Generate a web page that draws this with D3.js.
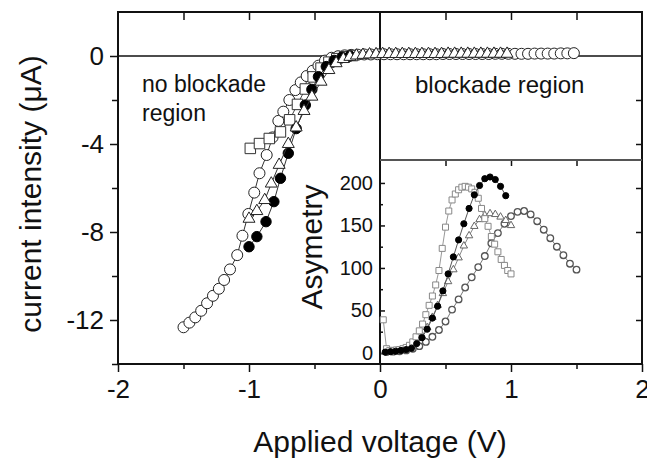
<html>
<head>
  <script src="https://d3js.org/d3.v7.min.js"></script>
  <style>
    body { margin: 0; background: #fff; }
    text { font-family: "Liberation Sans", Arial, sans-serif; fill: #111; }
  </style>
</head>
<body>
<svg id="chart" width="647" height="459"></svg>
<script>
// main I-V curves: [voltage, current]
const openCircles = [[-1.50,-12.33],[-1.455,-12.12],[-1.41,-11.88],[-1.365,-11.58],[-1.32,-11.24],[-1.275,-10.90],
  [-1.23,-10.58],[-1.19,-10.18],[-1.145,-9.70],[-1.09,-9.05],[-1.05,-8.17],[-1.005,-7.18],[-0.96,-6.21],[-0.92,-5.33],
  [-0.865,-4.50],[-0.82,-3.70],[-0.776,-2.95],[-0.738,-2.53],[-0.692,-2.00],[-0.646,-1.55],[-0.605,-1.20],[-0.56,-0.91],
  [-0.514,-0.67],[-0.47,-0.44],[-0.42,-0.21],[-0.37,-0.08],[-0.32,-0.01],[-0.27,0.03],[-0.22,0.05],[-0.17,0.06],
  [-0.12,0.07],[-0.07,0.07],[-0.02,0.08],[0.03,0.08],[0.08,0.08],[0.13,0.08],[0.18,0.08],[0.23,0.08],[0.28,0.08],
  [0.33,0.08],[0.38,0.08],[0.43,0.08],[0.48,0.09],[0.53,0.09],[0.58,0.09],[0.63,0.09],[0.68,0.09],[0.73,0.09],
  [0.78,0.09],[0.83,0.09],[0.88,0.10],[0.93,0.10],[0.98,0.10],[1.03,0.10],[1.08,0.10],[1.13,0.10],[1.18,0.11],
  [1.23,0.11],[1.28,0.11],[1.33,0.11],[1.38,0.12],[1.43,0.12],[1.48,0.13]];
const openSquares = [[-0.99,-4.20],[-0.92,-3.98],[-0.845,-3.75],[-0.76,-3.45],[-0.69,-2.90],[-0.63,-2.20],[-0.57,-1.50],
  [-0.51,-0.95],[-0.45,-0.55],[-0.39,-0.28],[-0.33,-0.12],[-0.27,-0.03],[-0.21,0.02]];
const filledCircles = [[-1.00,-8.67],[-0.94,-8.21],[-0.87,-7.53],[-0.81,-6.62],[-0.76,-5.56],[-0.70,-4.42],[-0.64,-3.30],
  [-0.57,-2.23],[-0.52,-1.52],[-0.47,-0.94],[-0.41,-0.48],[-0.35,-0.20],[-0.29,-0.06],[-0.23,0.00]];
const openTriangles = [[-1.00,-7.40],[-0.94,-7.05],[-0.88,-6.55],[-0.83,-5.80],[-0.77,-4.95],[-0.70,-4.00],[-0.64,-3.25],
  [-0.58,-2.50],[-0.52,-1.85],[-0.45,-1.17],[-0.39,-0.64],[-0.335,-0.33],[-0.28,-0.14],[-0.23,-0.04],[-0.18,0.02],
  [-0.13,0.05],[-0.08,0.07],[-0.03,0.08],[0.02,0.09],[0.07,0.09],[0.12,0.09],[0.17,0.09],[0.22,0.09],[0.27,0.09],
  [0.32,0.09],[0.37,0.09],[0.42,0.09],[0.47,0.09],[0.52,0.10],[0.57,0.10],[0.62,0.10],[0.67,0.10],[0.72,0.10],
  [0.77,0.10],[0.82,0.10],[0.87,0.10],[0.92,0.10],[0.97,0.10]];

// inset asymmetry curves: [voltage, asymmetry]
const insetSquares = [[0.025,39],[0.05,5],[0.075,3],[0.1,3],[0.125,3.5],[0.15,4],[0.175,5],[0.2,6.5],[0.225,9],
  [0.25,13],[0.275,19],[0.3,26],[0.325,34],[0.35,45],[0.375,56],[0.4,67],[0.425,80],[0.45,97],[0.475,123],
  [0.5,148],[0.525,167],[0.55,180],[0.575,187],[0.6,192],[0.625,195],[0.65,196],[0.675,195],[0.7,193],[0.725,189],
  [0.75,182],[0.775,170],[0.8,158],[0.825,149],[0.85,137],[0.875,128],[0.9,119],[0.925,110],[0.95,103],[0.975,97],[1.0,93]];
const insetFilled = [[0.04,1],[0.08,1.5],[0.12,2],[0.16,3],[0.20,4],[0.24,5.5],[0.28,11],[0.32,18],[0.36,28],[0.40,41],
  [0.44,55],[0.48,73],[0.52,93],[0.56,113],[0.60,133],[0.64,152],[0.68,170],[0.72,186],[0.76,197],[0.80,205],
  [0.84,207],[0.88,204],[0.92,196],[0.96,185]];
const insetTriangles = [[0.04,1],[0.08,1.5],[0.12,2],[0.16,3],[0.20,5],[0.24,8],[0.28,13],[0.32,20],[0.36,30],[0.40,42],
  [0.44,56],[0.48,70],[0.52,84],[0.56,98],[0.60,112],[0.64,126],[0.68,138],[0.72,149],[0.76,157],[0.80,162],
  [0.84,164],[0.88,163],[0.92,160],[0.96,156],[1.0,150]];
const insetRings = [[0.05,1],[0.10,1.5],[0.15,2],[0.20,3],[0.25,5],[0.30,8],[0.35,13],[0.40,19],[0.45,27],[0.50,37],
  [0.55,51],[0.60,63],[0.65,77],[0.70,89],[0.75,101],[0.80,114],[0.85,129],[0.90,141],[0.95,152],[1.00,161],
  [1.05,166],[1.10,167],[1.15,163],[1.20,155],[1.25,145],[1.30,135],[1.35,125],[1.40,115],[1.45,105],[1.50,98]];

const xMajor = [-2, -1, 0, 1, 2];
const xMinor = [-1.5, -0.5, 0.5, 1.5];
const yMajor = [0, -4, -8, -12];
const yMinor = [-2, -6, -10, -14];
const insetMajor = [0, 50, 100, 150, 200];
const insetMinor = [25, 75, 125, 175];

const svg = d3.select("#chart");
const plotLeft = 118, plotRight = 642, plotTop = 12, plotBottom = 364, insetTop = 160;

const x = d3.scaleLinear().domain([-2, 2]).range([plotLeft, plotRight]);
const y = d3.scaleLinear().domain([-14, 2]).range([plotBottom, plotTop]);
const yIn = d3.scaleLinear().domain([-13, 227]).range([plotBottom, insetTop]);

const noDomain = g => g.select(".domain").remove();
const bigText = size => g => g.selectAll("text").style("font-size", size).attr("font-family", "Liberation Sans, Arial");

// axes
svg.append("g").attr("transform", `translate(${plotLeft},0)`)
  .call(d3.axisLeft(y).tickValues(yMajor).tickSize(8).tickPadding(6).tickFormat(d => String(d)))
  .call(noDomain).call(bigText("26px"));
svg.append("g").attr("transform", `translate(${plotLeft},0)`)
  .call(d3.axisLeft(y).tickValues(yMinor).tickSize(6).tickFormat("")).call(noDomain);
svg.append("g").attr("transform", `translate(0,${plotBottom})`)
  .call(d3.axisBottom(x).tickValues(xMajor).tickSize(8).tickPadding(8).tickFormat(d => String(d)))
  .call(noDomain).call(bigText("26px"));
svg.append("g").attr("transform", `translate(0,${plotBottom})`)
  .call(d3.axisBottom(x).tickValues(xMinor).tickSize(5).tickFormat("")).call(noDomain);
svg.append("g").attr("transform", `translate(0,${plotTop})`)
  .call(d3.axisTop(x).tickValues([-1.5, -1, -0.5, 0.5, 1, 1.5]).tickSize(-8).tickFormat("")).call(noDomain);
svg.append("g").attr("transform", `translate(${plotRight},0)`)
  .call(d3.axisRight(y).tickValues([-2, -4, -6, -8, -10, -12]).tickSize(-6).tickFormat("")).call(noDomain);

// inset axes
svg.append("g").attr("transform", `translate(${x(0)},0)`)
  .call(d3.axisLeft(yIn).tickValues(insetMajor).tickSize(-5).tickPadding(7).tickFormat(d => String(d)))
  .call(noDomain).call(bigText("20px"));
svg.append("g").attr("transform", `translate(${x(0)},0)`)
  .call(d3.axisLeft(yIn).tickValues(insetMinor).tickSize(-3).tickFormat("")).call(noDomain);
svg.append("g").attr("transform", `translate(0,${insetTop})`)
  .call(d3.axisBottom(x).tickValues([0.5, 1, 1.5]).tickSize(6).tickFormat("")).call(noDomain);

svg.selectAll(".tick line").attr("stroke", "#111").attr("stroke-width", 1.5);
svg.selectAll(".tick text").attr("fill", "#111");

// frame and zero lines
svg.append("rect").attr("x", plotLeft).attr("y", plotTop).attr("width", plotRight - plotLeft).attr("height", plotBottom - plotTop)
  .attr("fill", "none").attr("stroke", "#111").attr("stroke-width", 2);
svg.append("line").attr("x1", plotLeft).attr("x2", plotRight).attr("y1", y(0)).attr("y2", y(0))
  .attr("stroke", "#111").attr("stroke-width", 1.5);
svg.append("line").attr("x1", x(0)).attr("x2", x(0)).attr("y1", plotTop).attr("y2", plotBottom)
  .attr("stroke", "#111").attr("stroke-width", 2);
svg.append("line").attr("x1", x(0)).attr("x2", plotRight).attr("y1", insetTop).attr("y2", insetTop)
  .attr("stroke", "#555").attr("stroke-width", 2);

// series drawing
function drawSeries(data, ys, shape, opts) {
  const line = d3.line().x(d => x(d[0])).y(d => ys(d[1]));
  svg.append("path").datum(data).attr("d", line).attr("fill", "none")
    .attr("stroke", opts.lineColor).attr("stroke-width", opts.lineWidth || 1);
  svg.append("g").selectAll("path").data(data).join("path")
    .attr("transform", d => `translate(${x(d[0])},${ys(d[1])})`)
    .attr("d", d3.symbol(shape, opts.size))
    .attr("fill", opts.fill).attr("stroke", opts.stroke).attr("stroke-width", opts.strokeWidth || 1);
}

drawSeries(openCircles, y, d3.symbolCircle, {size: 95, fill: "#fff", stroke: "#222", lineColor: "#333"});
drawSeries(openSquares, y, d3.symbolSquare, {size: 110, fill: "#fff", stroke: "#333", lineColor: "#444"});
drawSeries(filledCircles, y, d3.symbolCircle, {size: 85, fill: "#000", stroke: "#000", lineColor: "#333"});
drawSeries(openTriangles, y, d3.symbolTriangle, {size: 62, fill: "#fff", stroke: "#222", lineColor: "#333"});

drawSeries(insetRings, yIn, d3.symbolCircle, {size: 34, fill: "#fff", stroke: "#555", lineColor: "#777", strokeWidth: 1.3});
drawSeries(insetTriangles, yIn, d3.symbolTriangle, {size: 24, fill: "#fff", stroke: "#666", lineColor: "#888"});
drawSeries(insetSquares, yIn, d3.symbolSquare, {size: 36, fill: "#fff", stroke: "#888", lineColor: "#999"});
drawSeries(insetFilled, yIn, d3.symbolCircle, {size: 30, fill: "#000", stroke: "#000", lineColor: "#555"});

// labels
svg.append("text").attr("transform", "translate(41,194) rotate(-90)").attr("text-anchor", "middle")
  .style("font-size", "30px").text("current intensity (\u03bcA)");
svg.append("text").attr("x", 380).attr("y", 452).attr("text-anchor", "middle")
  .style("font-size", "30px").text("Applied voltage (V)");
svg.append("text").attr("x", 142).attr("y", 92).style("font-size", "23px").text("no blockade");
svg.append("text").attr("x", 142).attr("y", 121).style("font-size", "23px").text("region");
svg.append("text").attr("x", 415).attr("y", 93).style("font-size", "24px").text("blockade region");
svg.append("text").attr("transform", "translate(322,247) rotate(-90)").attr("text-anchor", "middle")
  .style("font-size", "30px").text("Asymetry");
</script>
</body>
</html>
